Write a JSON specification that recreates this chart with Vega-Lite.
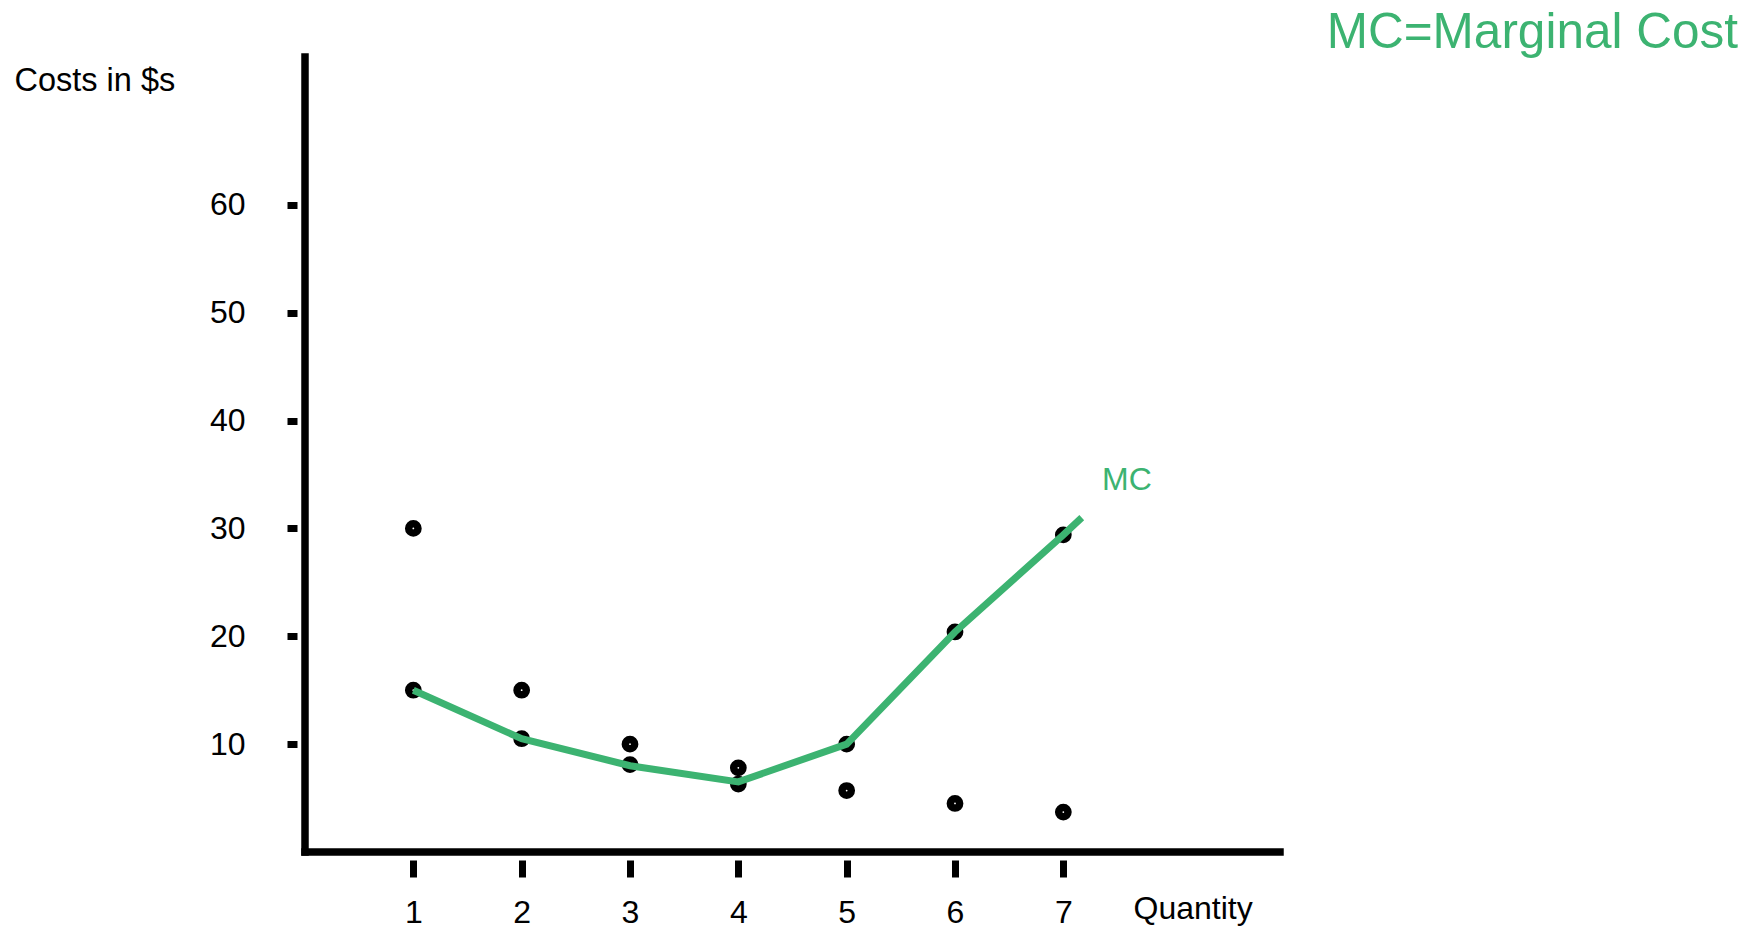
{
  "$schema": "https://vega.github.io/schema/vega-lite/v6.json",
  "autosize": {"type": "none"},
  "padding": {"left": 305, "top": 57, "right": 466, "bottom": 76},
  "width": 975,
  "height": 795,
  "background": "white",
  "title": {
    "text": "MC=Marginal Cost",
    "orient": "top",
    "anchor": "end",
    "frame": "group",
    "dx": 458,
    "offset": -46,
    "baseline": "alphabetic",
    "fontSize": 49.5,
    "font": "Liberation Sans",
    "fontWeight": "normal",
    "color": "#3cb371"
  },
  "datasets": {
    "points": [
      {"q": 1, "cost": 30},
      {"q": 1, "cost": 15},
      {"q": 2, "cost": 15},
      {"q": 2, "cost": 10.5},
      {"q": 3, "cost": 10},
      {"q": 3, "cost": 8.1},
      {"q": 4, "cost": 7.8},
      {"q": 4, "cost": 6.3},
      {"q": 5, "cost": 10},
      {"q": 5, "cost": 5.7},
      {"q": 6, "cost": 20.4},
      {"q": 6, "cost": 4.5},
      {"q": 7, "cost": 29.4},
      {"q": 7, "cost": 3.7}
    ],
    "mc": [
      {"q": 1, "cost": 15},
      {"q": 2, "cost": 10.5},
      {"q": 3, "cost": 8},
      {"q": 4, "cost": 6.5},
      {"q": 5, "cost": 10},
      {"q": 6, "cost": 20.4},
      {"q": 7, "cost": 29.4},
      {"q": 7.17, "cost": 31}
    ],
    "one": [{"label": "MC"}]
  },
  "layer": [
    {
      "data": {"name": "points"},
      "mark": {"type": "point", "shape": "circle", "filled": true, "fill": "white", "fillOpacity": 1, "stroke": "black", "strokeOpacity": 1, "strokeWidth": 7.5, "size": 86, "opacity": 1},
      "encoding": {
        "x": {
          "field": "q", "type": "quantitative",
          "scale": {"domain": [0, 9], "nice": false, "zero": true},
          "axis": {
            "values": [1, 2, 3, 4, 5, 6, 7], "format": "d",
            "domain": false, "grid": false,
            "offset": 8, "tickSize": 17, "tickWidth": 7, "tickColor": "black", "tickCap": "butt",
            "labelPadding": 20, "labelFontSize": 32, "labelFont": "Liberation Sans", "labelColor": "black",
            "title": "Quantity", "titleFont": "Liberation Sans", "titleFontSize": 32, "titleFontWeight": "normal", "titleColor": "black",
            "titleAlign": "left", "titleBaseline": "alphabetic", "titleX": 828, "titleY": 58
          }
        },
        "y": {
          "field": "cost", "type": "quantitative",
          "scale": {"domain": [0, 73.7], "nice": false, "zero": true},
          "axis": {
            "values": [10, 20, 30, 40, 50, 60],
            "domain": false, "grid": false,
            "offset": 8, "tickSize": 10, "tickWidth": 7, "tickColor": "black", "tickCap": "butt",
            "labelPadding": 42, "labelFontSize": 32, "labelFont": "Liberation Sans", "labelColor": "black",
            "title": "Costs in $s", "titleFont": "Liberation Sans", "titleFontSize": 32.5, "titleFontWeight": "normal", "titleColor": "black",
            "titleAngle": 0, "titleAlign": "left", "titleBaseline": "alphabetic", "titleX": -283, "titleY": 33
          }
        }
      }
    },
    {
      "data": {"name": "mc"},
      "mark": {"type": "line", "color": "#3cb371", "strokeWidth": 7, "strokeCap": "butt", "strokeJoin": "miter"},
      "encoding": {
        "x": {"field": "q", "type": "quantitative"},
        "y": {"field": "cost", "type": "quantitative"}
      }
    },
    {
      "data": {"name": "one"},
      "mark": {"type": "rule", "color": "black", "strokeWidth": 7.5, "strokeCap": "square"},
      "encoding": {"x": {"datum": 0, "type": "quantitative"}}
    },
    {
      "data": {"name": "one"},
      "mark": {"type": "rule", "color": "black", "strokeWidth": 7.5, "strokeCap": "square"},
      "encoding": {"y": {"datum": 0, "type": "quantitative"}}
    },
    {
      "data": {"name": "one"},
      "mark": {"type": "text", "align": "left", "baseline": "alphabetic", "fontSize": 32, "font": "Liberation Sans", "color": "#3cb371"},
      "encoding": {
        "x": {"datum": 7.357, "type": "quantitative"},
        "y": {"datum": 33.56, "type": "quantitative"},
        "text": {"field": "label"}
      }
    }
  ],
  "config": {
    "view": {"stroke": null},
    "font": "Liberation Sans"
  }
}
